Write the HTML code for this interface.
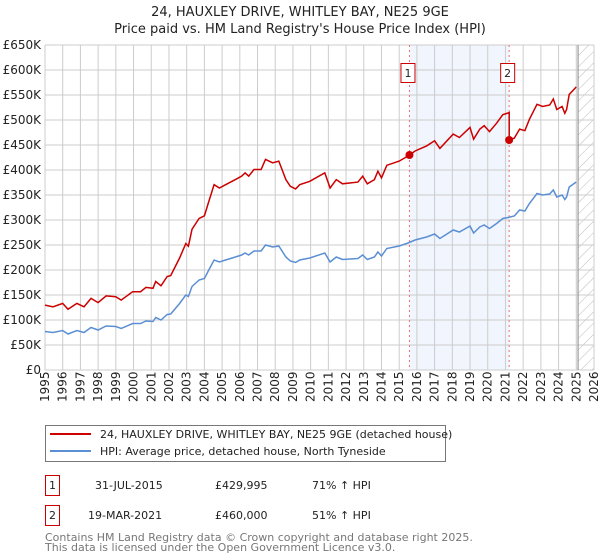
<!DOCTYPE html>
<html><head><meta charset="utf-8"><style>
body{margin:0;background:#fff;font-family:"DejaVu Sans","Liberation Sans",sans-serif;}
svg{display:block}
</style></head><body>
<svg id="c" width="600" height="560" viewBox="0 0 600 560" xmlns="http://www.w3.org/2000/svg" font-family="DejaVu Sans, Liberation Sans, sans-serif">
<defs><pattern id="hatch" width="8" height="8" patternUnits="userSpaceOnUse" patternTransform="rotate(45)"><line x1="0" y1="0" x2="0" y2="8" stroke="#bbb" stroke-width="1"/></pattern></defs>
<text x="300" y="16" text-anchor="middle" font-size="13" fill="#222">24, HAUXLEY DRIVE, WHITLEY BAY, NE25 9GE</text>
<text x="300" y="33" text-anchor="middle" font-size="13" fill="#222">Price paid vs. HM Land Registry's House Price Index (HPI)</text>
<g id="plot"></g>
<rect x="45.5" y="425.5" width="400" height="36" fill="#fff" stroke="#777"/>
<line x1="50" y1="434" x2="91" y2="434" stroke="#cc0000" stroke-width="2"/>
<text x="100" y="438" font-size="11" fill="#222">24, HAUXLEY DRIVE, WHITLEY BAY, NE25 9GE (detached house)</text>
<line x1="50" y1="451" x2="91" y2="451" stroke="#5b8fd4" stroke-width="2"/>
<text x="100" y="455" font-size="11" fill="#222">HPI: Average price, detached house, North Tyneside</text>
<g font-size="11" fill="#222">
<rect x="45.5" y="475.5" width="14" height="20" fill="#fff" stroke="#cc0000"/><text x="52.5" y="489" text-anchor="middle">1</text>
<text x="95" y="489">31-JUL-2015</text><text x="215" y="489">£429,995</text><text x="312" y="489">71% ↑ HPI</text></g>
<g font-size="11" fill="#222">
<rect x="45.5" y="505.5" width="14" height="20" fill="#fff" stroke="#cc0000"/><text x="52.5" y="519" text-anchor="middle">2</text>
<text x="88" y="519">19-MAR-2021</text><text x="215" y="519">£460,000</text><text x="312" y="519">51% ↑ HPI</text></g>
<text x="45" y="541" font-size="11" fill="#777">Contains HM Land Registry data © Crown copyright and database right 2025.</text>
<text x="45" y="551" font-size="11" fill="#777">This data is licensed under the Open Government Licence v3.0.</text>
</svg>
<script>
const hpiYears=[1995.0,1995.45,1996.0,1996.3,1996.8,1997.2,1997.6,1998.0,1998.45,1999.0,1999.3,1999.95,2000.4,2000.7,2001.1,2001.25,2001.55,2001.9,2002.1,2002.6,2002.95,2003.1,2003.3,2003.7,2004.0,2004.25,2004.55,2004.85,2005.2,2005.75,2006.1,2006.3,2006.5,2006.8,2007.2,2007.45,2007.85,2008.2,2008.6,2008.85,2009.15,2009.38,2009.95,2010.8,2011.1,2011.45,2011.8,2012.67,2012.94,2013.2,2013.6,2013.8,2014.0,2014.3,2015.0,2015.5,2015.9,2016.55,2017.0,2017.3,2018.05,2018.4,2019.0,2019.2,2019.55,2019.8,2020.1,2020.5,2020.85,2021.15,2021.5,2021.8,2022.1,2022.35,2022.78,2023.1,2023.5,2023.7,2023.9,2024.2,2024.35,2024.45,2024.6,2025.0];
const hpiValues=[77,75,79,72,79,75,85,80,88,87,83,93,93,98,97,105,100,111,112,133,150,147,167,180,183,200,220,216,220,226,230,234,230,238,238,250,246,248,226,218,215,220,224,234,216,226,221,223,230,221,226,236,228,243,248,254,260,266,272,263,280,276,288,274,286,290,283,293,303,305,308,320,318,333,353,350,352,360,346,350,341,346,366,376];
const saleYears=[2015.58,2021.21];
const salePrices=[429995,460000];
const saleLabels=["1","2"];
const yTicks=[0,50,100,150,200,250,300,350,400,450,500,550,600,650];
const xTicks=[1995,1996,1997,1998,1999,2000,2001,2002,2003,2004,2005,2006,2007,2008,2009,2010,2011,2012,2013,2014,2015,2016,2017,2018,2019,2020,2021,2022,2023,2024,2025,2026];
const dataEnd=2025.1;
const X0=45,X1=594,Y0=370,Y1=45,YMIN=1995,YMAX=2026,VMAX=650;
const sx=y=>X0+(y-YMIN)/(YMAX-YMIN)*(X1-X0);
const sy=v=>Y0-v/VMAX*(Y0-Y1);
const NS="http://www.w3.org/2000/svg";
const g=document.getElementById('plot');
function mk(t,a,p){const e=document.createElementNS(NS,t);for(const k in a)e.setAttribute(k,a[k]);(p||g).appendChild(e);return e;}
function hpiAt(y){for(let i=1;i<hpiYears.length;i++){if(y<=hpiYears[i]){const t=(y-hpiYears[i-1])/(hpiYears[i]-hpiYears[i-1]);return hpiValues[i-1]+t*(hpiValues[i]-hpiValues[i-1]);}}return hpiValues[hpiValues.length-1];}
// shaded band
const band=mk('rect',{x:sx(saleYears[0]),y:Y1,width:sx(saleYears[1])-sx(saleYears[0]),height:Y0-Y1,fill:'#eef3fc',opacity:0.8});


const hat=mk('rect',{x:sx(dataEnd),y:Y1,width:X1-sx(dataEnd),height:Y0-Y1,fill:'url(#hatch)'});


// grid
xTicks.forEach(t=>{const l=mk('line',{x1:sx(t),x2:sx(t),y1:Y1,y2:Y0,stroke:'#cccccc','stroke-width':1});


const tx=mk('text',{x:0,y:0,transform:`translate(${sx(t)+4},${Y0+32}) rotate(-90)`,'font-size':12,fill:'#222'});tx.textContent=t;

});
yTicks.forEach(t=>{const l=mk('line',{x1:X0,x2:X1,y1:sy(t),y2:sy(t),stroke:'#cccccc','stroke-width':1});


const tx=mk('text',{x:41,y:sy(t)+4,'text-anchor':'end','font-size':12,fill:'#222'});tx.textContent=t===0?'£0':'£'+t+'K';

});
const el=mk('line',{x1:sx(dataEnd),x2:sx(dataEnd),y1:Y1,y2:Y0,stroke:'#888','stroke-width':1});


// sale vertical lines
saleYears.forEach((s,i)=>{const l=mk('line',{x1:sx(s),x2:sx(s),y1:Y1,y2:Y0,stroke:'#f07070','stroke-width':1,'stroke-dasharray':'2,3'});


const r=mk('rect',{x:sx(s)-8.5,y:63.5,width:14,height:19,fill:'#fff',stroke:'#cc0000'});


const tx=mk('text',{x:sx(s)-1.5,y:77,'text-anchor':'middle','font-size':11,fill:'#222'});tx.textContent=saleLabels[i];

});
// HPI line
const hp=mk('path',{d:hpiYears.map((y,i)=>(i?'L':'M')+sx(y).toFixed(1)+','+sy(hpiValues[i]).toFixed(1)).join(''),fill:'none',stroke:'#5b8fd4','stroke-width':1.5});


// Price line: HPI-indexed from each sale
const r1=salePrices[0]/1000/hpiAt(saleYears[0]), r2=salePrices[1]/1000/hpiAt(saleYears[1]);
let d='';
hpiYears.forEach((y,i)=>{if(y<saleYears[1]){d+=(d?'L':'M')+sx(y).toFixed(1)+','+sy(hpiValues[i]*r1).toFixed(1);}});
d+='L'+sx(saleYears[1]).toFixed(1)+','+sy(hpiAt(saleYears[1])*r1).toFixed(1);
d+='L'+sx(saleYears[1]).toFixed(1)+','+sy(salePrices[1]/1000).toFixed(1);
hpiYears.forEach((y,i)=>{if(y>saleYears[1]){d+='L'+sx(y).toFixed(1)+','+sy(hpiValues[i]*r2).toFixed(1);}});
const pp=mk('path',{d:d,fill:'none',stroke:'#cc0000','stroke-width':1.5});


saleYears.forEach((s,i)=>{const c=mk('circle',{cx:sx(s),cy:sy(salePrices[i]/1000),r:4,fill:'#cc0000'});

});
</script>
</body></html>
